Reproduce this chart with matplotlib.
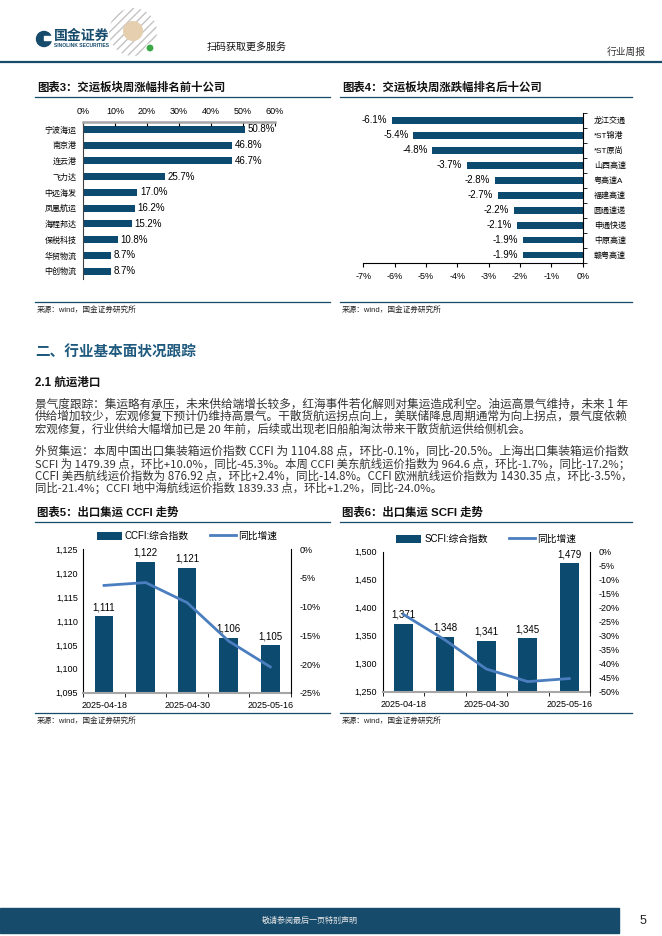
import matplotlib
matplotlib.use('Agg')
import matplotlib.pyplot as plt
from matplotlib.patches import Rectangle, Circle
import numpy as np

plt.rcParams['font.family'] = ['Liberation Sans', 'Noto Sans CJK SC', 'DejaVu Sans']
plt.rcParams['axes.unicode_minus'] = False

# ---- data ----
names3 = ['宁波海运', '南京港', '连云港', '飞力达', '中远海发', '凤凰航运', '海程邦达', '保税科技', '华贸物流', '中创物流']
vals3 = [50.8, 46.8, 46.7, 25.7, 17.0, 16.2, 15.2, 10.8, 8.7, 8.7]

names4 = ['龙江交通', '*ST锦港', '*ST原尚', '山西高速', '粤高速A', '福建高速', '圆通速递', '申通快递', '中原高速', '赣粤高速']
vals4 = [-6.1, -5.4, -4.8, -3.7, -2.8, -2.7, -2.2, -2.1, -1.9, -1.9]

dates = ['2025-04-18', '2025-04-25', '2025-04-30', '2025-05-09', '2025-05-16']
ccfi = [1111.0, 1122.4, 1121.1, 1106.5, 1104.88]
ccfi_yoy = [-6.3, -5.8, -9.3, -16.0, -20.5]
scfi = [1370.6, 1347.8, 1341.3, 1345.4, 1479.39]
scfi_yoy = [-22.4, -31.5, -41.9, -46.4, -45.3]

para1 = ['景气度跟踪：集运略有承压，未来供给端增长较多，红海事件若化解则对集运造成利空。油运高景气维持，未来 1 年',
         '供给增加较少，宏观修复下预计仍维持高景气。干散货航运拐点向上，美联储降息周期通常为向上拐点，景气度依赖',
         '宏观修复，行业供给大幅增加已是 20 年前，后续或出现老旧船舶淘汰带来干散货航运供给侧机会。']
para2 = ['外贸集运：本周中国出口集装箱运价指数 CCFI 为 1104.88 点，环比-0.1%，同比-20.5%。上海出口集装箱运价指数',
         'SCFI 为 1479.39 点，环比+10.0%，同比-45.3%。本周 CCFI 美东航线运价指数为 964.6 点，环比-1.7%，同比-17.2%；',
         'CCFI 美西航线运价指数为 876.92 点，环比+2.4%，同比-14.8%。CCFI 欧洲航线运价指数为 1430.35 点，环比-3.5%，',
         '同比-21.4%；CCFI 地中海航线运价指数 1839.33 点，环比+1.2%，同比-24.0%。']

TEAL = '#164b6c'
BAR = '#0d4a6f'
LINE = '#4a7ebf'
GREY = '#a6a6a6'

W, H = 662, 936
fig = plt.figure(figsize=(W / 100, H / 100), dpi=100)
renderer = fig.canvas.get_renderer()

# page-level drawing layer in pixel coords
bg = fig.add_axes([0, 0, 1, 1])
bg.set_xlim(0, W)
bg.set_ylim(H, 0)
bg.axis('off')


def ax_box(l, t, r, b):
    return fig.add_axes([l / W, 1 - b / H, (r - l) / W, (b - t) / H])


# header
bg.add_patch(Circle((44, 39), 7.5, color=TEAL))
bg.add_patch(Rectangle((44, 36), 8, 4, color='white'))
bg.text(54, 35.5, '国金证券', fontsize=10, weight='bold', color=TEAL, va='center')
bg.text(54, 45.5, 'SINOLINK SECURITIES', fontsize=3.6, weight='bold', color=TEAL, va='center')
bg.add_patch(Circle((133, 32), 24, fc='white', ec='none', hatch='....', lw=0))
bg.add_patch(Circle((133, 32), 24, fc='none', ec='#888888', hatch='////', lw=0, alpha=0.5))
bg.add_patch(Circle((133, 31), 10, fc='#e6cfae', ec='none'))
bg.add_patch(Circle((150, 48), 4, fc='#3aa845', ec='white', lw=0.8))
bg.text(207, 47, '扫码获取更多服务', fontsize=7.2, va='center', color='#111111')
bg.text(646, 52, '行业周报', fontsize=7, ha='right', va='center', color='#333333')
bg.plot([0, W], [62, 62], color=TEAL, lw=1.6)

# footer
bg.add_patch(Rectangle((0, 908), 619, 25, color=TEAL))
bg.text(310, 920.5, '敬请参阅最后一页特别声明', fontsize=5.8, color='#e8e8e8', ha='center', va='center')
bg.text(643, 920.5, '5', fontsize=9, ha='center', va='center', color='#222222')


def block_title(x0, x1, y, s):
    bg.text(x0 + 2, y, s, fontsize=8.2, weight='bold', va='center', color='#111111')
    bg.plot([x0, x1], [y + 9.5, y + 9.5], color=TEAL, lw=0.9)


def block_source(x0, x1, y):
    bg.plot([x0, x1], [y, y], color=TEAL, lw=0.9)
    bg.text(x0 + 2, y + 8, '来源：wind，国金证券研究所', fontsize=5.5, va='center', color='#222222')


block_title(35, 330, 87, '图表3：交运板块周涨幅排名前十公司')
block_title(340, 632, 87, '图表4：交运板块周涨跌幅排名后十公司')
block_source(35, 330, 302)
block_source(340, 632, 302)
block_title(35, 330, 512.5, '图表5：出口集运 CCFI 走势')
block_title(340, 632, 512.5, '图表6：出口集运 SCFI 走势')
block_source(35, 330, 712.5)
block_source(340, 632, 712.5)

# section text
bg.text(35, 352.5, '二、行业基本面状况跟踪', fontsize=10.5, weight='bold', color='#1f5a7e', va='center')
bg.text(35, 383, '2.1 航运港口', fontsize=8.3, weight='bold', color='#111111', va='center')


def paragraph(lines, y0, step, size=8.2, target=595):
    for i, s in enumerate(lines):
        t = bg.text(35, y0 + i * step, s, fontsize=size, va='center', color='#333333',
                    family=['Noto Sans CJK SC', 'DejaVu Sans'])
        if i < len(lines) - 1:
            w = t.get_window_extent(renderer).width
            t.set_fontsize(size * min(max(target / w, 0.95), 1.05))


paragraph(para1, 404, 12.65)
paragraph(para2, 451, 12.45)

pos = np.arange(10)

# ---- chart 3 ----
ax3 = ax_box(83.3, 121.5, 274.5, 279)
ax3.barh(pos, vals3, height=0.46, color=BAR)
ax3.set_xlim(0, 60)
ax3.set_ylim(9.5, -0.5)
ax3.xaxis.tick_top()
ax3.set_xticks(range(0, 61, 10))
ax3.set_xticklabels([f'{v}%' for v in range(0, 61, 10)])
ax3.tick_params(axis='x', direction='in', length=3, labelsize=6.5, pad=4)
ax3.set_yticks(pos)
ax3.set_yticklabels(names3)
ax3.tick_params(axis='y', length=0, labelsize=5.8, pad=5)
for sp in ['right', 'bottom']:
    ax3.spines[sp].set_visible(False)
ax3.spines['top'].set_color(GREY)
ax3.spines['top'].set_linewidth(1.8)
ax3.spines['left'].set_color('#404040')
ax3.spines['left'].set_linewidth(0.8)
for i, v in enumerate(vals3):
    ax3.text(v + 0.8, i, f'{v:.1f}%', va='center', fontsize=7)

# ---- chart 4 ----
ax4 = ax_box(363.3, 112.8, 582.7, 262.5)
ax4.barh(pos, vals4, height=0.46, color=BAR)
ax4.set_xlim(-7, 0)
ax4.set_ylim(9.5, -0.5)
ax4.set_xticks(range(-7, 1))
ax4.set_xticklabels([f'{v}%' for v in range(-7, 1)])
ax4.tick_params(axis='x', direction='out', length=3, labelsize=6.5, pad=4)
ax4.yaxis.tick_right()
ax4.set_yticks(pos)
ax4.set_yticklabels(names4)
ax4.set_yticks(np.arange(-0.5, 10), minor=True)
ax4.tick_params(axis='y', which='major', length=0, labelsize=5.8, pad=8)
ax4.tick_params(axis='y', which='minor', length=3, direction='out')
for sp in ['left', 'top']:
    ax4.spines[sp].set_visible(False)
for sp in ['right', 'bottom']:
    ax4.spines[sp].set_linewidth(0.8)
for i, v in enumerate(vals4):
    ax4.text(v - 0.15, i, f'{v:.1f}%', va='center', ha='right', fontsize=7)


# ---- charts 5 & 6 ----
def combo(box, vals, yoy, ylim, ystep, rlim, rstep, bar_label, leg_y):
    ax = ax_box(*box)
    x = np.arange(len(vals))
    b = ax.bar(x, vals, width=0.45, color=BAR, label=bar_label)
    for xi, v in zip(x, vals):
        ax.annotate(f'{v:,.0f}', (xi, v), xytext=(0, 3), textcoords='offset points',
                    ha='center', va='bottom', fontsize=7)
    ax.set_xlim(-0.5, len(vals) - 0.5)
    ax.set_ylim(*ylim)
    yt = np.arange(ylim[0], ylim[1] + 1, ystep)
    ax.set_yticks(yt)
    ax.set_yticklabels([f'{v:,.0f}' for v in yt])
    ax.set_xticks([0, 2, 4])
    ax.set_xticklabels([dates[0], dates[2], dates[4]])
    ax.set_xticks(np.arange(-0.5, len(vals)), minor=True)
    ax.tick_params(axis='x', which='major', length=0, labelsize=6.5, pad=6)
    ax.tick_params(axis='x', which='minor', length=3, direction='out')
    ax.tick_params(axis='y', length=0, labelsize=6.5, pad=4)
    ax.spines['top'].set_visible(False)
    ax.spines['bottom'].set_color(GREY)
    ax.spines['bottom'].set_linewidth(1.5)
    ax.spines['left'].set_linewidth(0.8)
    ax.spines['right'].set_visible(False)

    axr = ax.twinx()
    ln, = axr.plot(x, yoy, color=LINE, lw=2, label='同比增速')
    axr.set_ylim(*rlim)
    rt = np.arange(rlim[0], rlim[1] + 1, rstep)
    axr.set_yticks(rt)
    axr.set_yticklabels([f'{v:.0f}%' for v in rt])
    axr.tick_params(axis='y', length=0, labelsize=6.5, pad=6)
    axr.spines['top'].set_visible(False)
    axr.spines['bottom'].set_visible(False)
    axr.spines['left'].set_visible(False)
    axr.spines['right'].set_linewidth(0.8)

    t, bt = box[1], box[3]
    ax.legend([b, ln], [bar_label, '同比增速'], loc='center', ncol=2, frameon=False,
              bbox_to_anchor=(0.5, (bt - leg_y) / (bt - t)), fontsize=7,
              handlelength=2.6, handleheight=0.9, columnspacing=2.2, handletextpad=0.3)
    return ax


combo((83.3, 549.3, 291, 692.7), ccfi, ccfi_yoy, (1095, 1125), 5, (-25, 0), 5, 'CCFI:综合指数', 536)
combo((382.7, 551.7, 590, 691.7), scfi, scfi_yoy, (1250, 1500), 50, (-50, 0), 5, 'SCFI:综合指数', 539)

fig.savefig('out.png', dpi=100)
